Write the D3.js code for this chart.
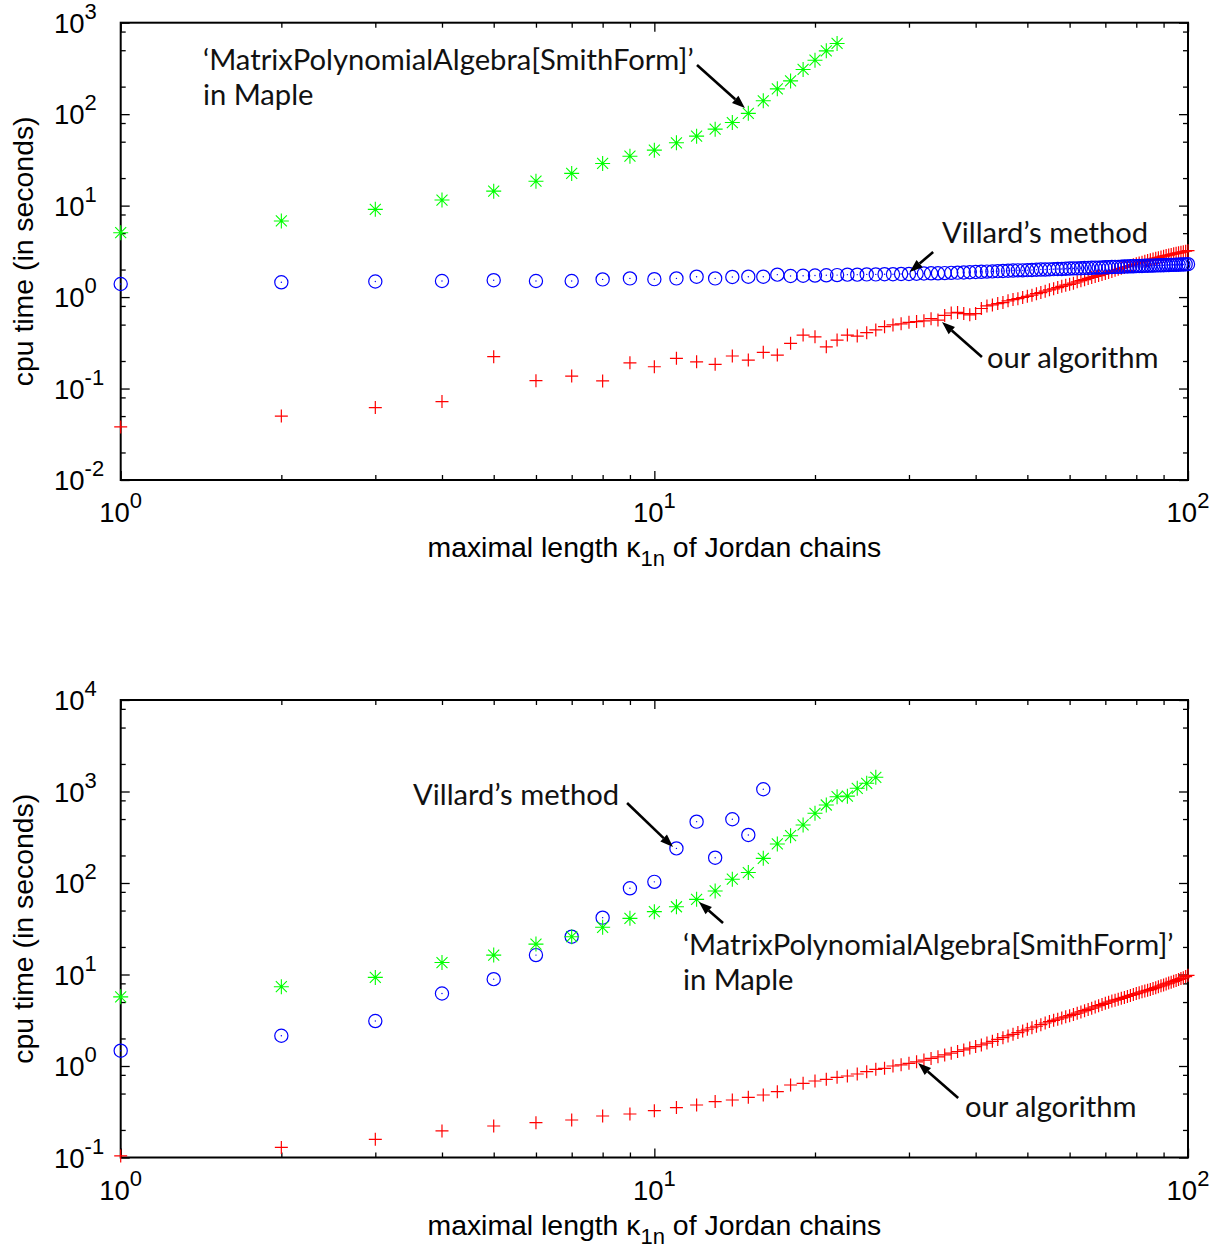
<!DOCTYPE html>
<html>
<head>
<meta charset="utf-8">
<script src="https://cdn.jsdelivr.net/npm/d3@7"></script>
<style>
body { margin: 0; background: #fff; }
</style>
</head>
<body>
<script>
/* cpu time vs maximal length of Jordan chains, two log-log panels */

var widthMax = 1217;
var heightMax = 1247;

// chain lengths k = 1..100
var kAll = d3.range(1, 101);

// top panel
var topMaple = [5.06, 6.8, 9.1, 11.5, 14.4, 18.5, 22.5, 28.9, 34.7, 40.4,
	48.6, 57.5, 68.6, 81, 102, 140, 189, 231, 308, 389,
	492, 593];
var topVillard = [1.39, 1.45, 1.48, 1.50, 1.53, 1.50, 1.50, 1.56, 1.60, 1.57,
	1.60, 1.67, 1.60, 1.66, 1.67, 1.67, 1.76, 1.70, 1.71, 1.72,
	1.73, 1.74, 1.76, 1.76, 1.77, 1.77, 1.78, 1.78, 1.79, 1.79,
	1.80, 1.81, 1.82, 1.82, 1.83, 1.84, 1.85, 1.86, 1.87, 1.88,
	1.89, 1.90, 1.91, 1.92, 1.93, 1.94, 1.95, 1.96, 1.96, 1.97,
	1.98, 1.99, 2.00, 2.00, 2.01, 2.02, 2.03, 2.03, 2.04, 2.05,
	2.06, 2.06, 2.07, 2.08, 2.08, 2.09, 2.10, 2.10, 2.11, 2.12,
	2.12, 2.13, 2.14, 2.14, 2.15, 2.16, 2.16, 2.17, 2.17, 2.18,
	2.19, 2.19, 2.20, 2.20, 2.21, 2.21, 2.22, 2.22, 2.23, 2.23,
	2.24, 2.24, 2.25, 2.25, 2.26, 2.26, 2.27, 2.27, 2.28, 2.29];
var topOurs = [0.038, 0.050, 0.062, 0.072, 0.223, 0.122, 0.137, 0.121, 0.191, 0.173,
	0.214, 0.196, 0.184, 0.227, 0.205, 0.249, 0.232, 0.312, 0.384, 0.368,
	0.286, 0.339, 0.384, 0.375, 0.408, 0.437, 0.475, 0.496, 0.51, 0.53,
	0.54, 0.55, 0.58, 0.56, 0.63, 0.67, 0.68, 0.66, 0.64, 0.66,
	0.75, 0.80, 0.82, 0.85, 0.87, 0.91, 0.94, 0.96, 0.99, 1.02,
	1.05, 1.09, 1.12, 1.16, 1.20, 1.23, 1.27, 1.31, 1.35, 1.38,
	1.42, 1.47, 1.51, 1.55, 1.60, 1.64, 1.68, 1.72, 1.77, 1.81,
	1.86, 1.91, 1.96, 2.01, 2.06, 2.11, 2.16, 2.21, 2.26, 2.31,
	2.36, 2.41, 2.46, 2.51, 2.56, 2.61, 2.66, 2.70, 2.75, 2.80,
	2.84, 2.88, 2.92, 2.97, 3.01, 3.05, 3.09, 3.13, 3.17, 3.22];

// bottom panel
var botMaple = [5.7, 7.36, 9.3, 13.5, 16.3, 21.5, 25.9, 32.8, 41.1, 48.6,
	55, 66.3, 81.8, 110, 130, 186, 267, 329, 431, 578,
	712, 877, 890, 1084, 1230, 1430];
var botVillard = [1.47, 2.14, 3.1, 6.2, 8.9, 16.3, 25.9, 41.8, 87.5, 103,
	239, 468, 189, 497, 335, 1058];
var botOurs = [0.104, 0.129, 0.158, 0.195, 0.221, 0.240, 0.257, 0.284, 0.299, 0.325,
	0.351, 0.375, 0.408, 0.425, 0.455, 0.482, 0.524, 0.620, 0.647, 0.686,
	0.715, 0.752, 0.778, 0.818, 0.867, 0.920, 0.944, 1.00, 1.03, 1.07,
	1.11, 1.16, 1.21, 1.26, 1.32, 1.38, 1.44, 1.50, 1.57, 1.63,
	1.70, 1.78, 1.86, 1.95, 2.04, 2.13, 2.22, 2.32, 2.42, 2.52,
	2.62, 2.72, 2.83, 2.95, 3.06, 3.16, 3.25, 3.35, 3.45, 3.55,
	3.66, 3.78, 3.90, 4.02, 4.15, 4.28, 4.42, 4.56, 4.70, 4.84,
	4.98, 5.12, 5.24, 5.36, 5.49, 5.62, 5.76, 5.90, 6.04, 6.18,
	6.32, 6.46, 6.60, 6.72, 6.85, 7.02, 7.18, 7.35, 7.52, 7.70,
	7.88, 8.06, 8.24, 8.43, 8.62, 8.82, 9.02, 9.22, 9.48, 9.80];

// tick exponents
var xExp = [0, 1, 2];
var topYExp = [-2, -1, 0, 1, 2, 3];
var botYExp = [-1, 0, 1, 2, 3, 4];

// annotations, in data units (first baseline of text, arrow tail -> tip)
var topNotes = [
	{lines: ["\u2018MatrixPolynomialAlgebra[SmithForm]\u2019", "in Maple"], x: 1.426, y: 304},
	{lines: ["Villard\u2019s method"], x: 34.6, y: 3.90},
	{lines: ["our algorithm"], x: 42.0, y: 0.168}
];
var topArrows = [
	{x1: 12.02, y1: 345, x2: 14.78, y2: 116.8},
	{x1: 33.3, y1: 3.11, x2: 30.1, y2: 1.88},
	{x1: 41.1, y1: 0.2214, x2: 34.6, y2: 0.534}
];
var botNotes = [
	{lines: ["Villard\u2019s method"], x: 3.53, y: 712},
	{lines: ["\u2018MatrixPolynomialAlgebra[SmithForm]\u2019", "in Maple"], x: 11.31, y: 16.3},
	{lines: ["our algorithm"], x: 38.2, y: 0.277}
];
var botArrows = [
	{x1: 8.89, y1: 748, x2: 10.84, y2: 247},
	{x1: 13.45, y1: 36.5, x2: 12.12, y2: 62.0},
	{x1: 37.1, y1: 0.447, x2: 31.2, y2: 1.08}
];

var tickFont = "'Liberation Sans', Arial, Helvetica, sans-serif";
var noteFont = "Lato, 'Open Sans', sans-serif";

var svgContainer = d3.select("body").append("svg")
	.attr("width", widthMax)
	.attr("height", heightMax);

svgContainer.append("rect")
	.attr("width", widthMax)
	.attr("height", heightMax)
	.attr("fill", "#fff");

function minorTicks(lo, hi, steps) {
	var out = [];
	for (var e = lo; e < hi; e++) {
		steps.forEach(function(s) { out.push(s * Math.pow(10, e)); });
	}
	return out;
}

function drawPanel(cfg) {
	var left = 120.7, right = 1188;
	var x = d3.scaleLog().domain([1, 100]).range([left, right]);
	var y = d3.scaleLog().domain(cfg.yDomain).range([cfg.bottom, cfg.top]);
	var g = svgContainer.append("g");

	var yLo = Math.round(Math.log10(cfg.yDomain[0]));
	var yHi = Math.round(Math.log10(cfg.yDomain[1]));
	var xMajor = xExp.map(function(e) { return Math.pow(10, e); });
	var yMajor = cfg.yExp.map(function(e) { return Math.pow(10, e); });
	var xMinor = minorTicks(0, 2, [2, 3, 4, 5, 6, 7, 8, 9]);
	var yMinor = minorTicks(yLo, yHi, [2, 5, 8]);

	// inward ticks on all four sides
	function ticks(axisFn, scale, vals, len, transform) {
		var a = g.append("g")
			.attr("transform", transform)
			.call(axisFn(scale).tickValues(vals).tickSize(-len).tickFormat(""));
		a.select(".domain").remove();
		a.selectAll("line").attr("stroke", "#000").attr("stroke-width", 1.3);
	}
	ticks(d3.axisBottom, x, xMajor, 9, "translate(0," + cfg.bottom + ")");
	ticks(d3.axisBottom, x, xMinor, 5, "translate(0," + cfg.bottom + ")");
	ticks(d3.axisTop, x, xMajor, 9, "translate(0," + cfg.top + ")");
	ticks(d3.axisTop, x, xMinor, 5, "translate(0," + cfg.top + ")");
	ticks(d3.axisLeft, y, yMajor, 9, "translate(" + left + ",0)");
	ticks(d3.axisLeft, y, yMinor, 5, "translate(" + left + ",0)");
	ticks(d3.axisRight, y, yMajor, 9, "translate(" + right + ",0)");
	ticks(d3.axisRight, y, yMinor, 5, "translate(" + right + ",0)");

	g.append("rect")
		.attr("x", left)
		.attr("y", cfg.top)
		.attr("width", right - left)
		.attr("height", cfg.bottom - cfg.top)
		.attr("fill", "none")
		.attr("stroke", "#000")
		.attr("stroke-width", 2);

	// tick labels 10^n
	var xl = g.selectAll(".xlab").data(xExp).enter().append("text")
		.attr("x", function(e) { return x(Math.pow(10, e)); })
		.attr("y", cfg.bottom + 42)
		.attr("text-anchor", "middle")
		.attr("font-family", tickFont)
		.attr("font-size", 27.5);
	xl.append("tspan").text("10");
	xl.append("tspan").attr("dy", -14).attr("font-size", 22).text(function(e) { return e; });

	var yl = g.selectAll(".ylab").data(cfg.yExp).enter().append("text")
		.attr("x", 54)
		.attr("y", function(e) { return y(Math.pow(10, e)) + 10; })
		.attr("font-family", tickFont)
		.attr("font-size", 27.5);
	yl.append("tspan").text("10");
	yl.append("tspan").attr("dy", -14).attr("font-size", 22).text(function(e) { return e; });

	// axis titles
	var xt = g.append("text")
		.attr("x", (left + right) / 2)
		.attr("y", cfg.bottom + 77)
		.attr("text-anchor", "middle")
		.attr("font-family", tickFont)
		.attr("font-size", 28.4);
	xt.append("tspan").text("maximal length \u03ba");
	xt.append("tspan").attr("dy", 9).attr("font-size", 22).text("1n");
	xt.append("tspan").attr("dy", -9).text(" of Jordan chains");

	g.append("text")
		.attr("transform", "translate(33," + ((cfg.top + cfg.bottom) / 2) + ") rotate(-90)")
		.attr("text-anchor", "middle")
		.attr("font-family", tickFont)
		.attr("font-size", 28.4)
		.text("cpu time (in seconds)");

	// markers: red plus, blue circle with dot, green asterisk
	g.selectAll(".ours").data(cfg.ours).enter().append("path")
		.attr("transform", function(d, i) { return "translate(" + x(kAll[i]) + "," + y(d) + ")"; })
		.attr("d", "M-6.5,0H6.5M0,-6.5V6.5")
		.attr("stroke", "#ff0000")
		.attr("stroke-width", 1.2)
		.attr("fill", "none");

	var vil = g.selectAll(".vil").data(cfg.villard).enter().append("g")
		.attr("transform", function(d, i) { return "translate(" + x(kAll[i]) + "," + y(d) + ")"; });
	vil.append("circle")
		.attr("r", 6.6)
		.attr("fill", "none")
		.attr("stroke", "#0000ff")
		.attr("stroke-width", 1.2);
	vil.append("circle")
		.attr("r", 0.7)
		.attr("fill", "#0000ff");

	g.selectAll(".maple").data(cfg.maple).enter().append("path")
		.attr("transform", function(d, i) { return "translate(" + x(kAll[i]) + "," + y(d) + ")"; })
		.attr("d", "M-7.5,0H7.5M0,-7.5V7.5M-5.5,-5.5L5.5,5.5M-5.5,5.5L5.5,-5.5")
		.attr("stroke", "#00ff00")
		.attr("stroke-width", 1.1)
		.attr("fill", "none");

	// annotations
	cfg.notes.forEach(function(n) {
		var t = g.append("text")
			.attr("x", x(n.x))
			.attr("y", y(n.y))
			.attr("font-family", noteFont)
			.attr("font-size", 29.2)
			.attr("fill", "#111");
		n.lines.forEach(function(s, i) {
			t.append("tspan").attr("x", x(n.x)).attr("dy", i === 0 ? 0 : 35).text(s);
		});
	});

	cfg.arrows.forEach(function(a) {
		var x1 = x(a.x1), y1 = y(a.y1), x2 = x(a.x2), y2 = y(a.y2);
		var ang = Math.atan2(y2 - y1, x2 - x1);
		var hl = 13, hw = 4.8;
		var bx = x2 - hl * Math.cos(ang), by = y2 - hl * Math.sin(ang);
		g.append("line")
			.attr("x1", x1).attr("y1", y1)
			.attr("x2", bx).attr("y2", by)
			.attr("stroke", "#000")
			.attr("stroke-width", 2.6);
		g.append("path")
			.attr("d", "M" + x2 + "," + y2 +
				"L" + (bx + hw * Math.sin(ang)) + "," + (by - hw * Math.cos(ang)) +
				"L" + (bx - hw * Math.sin(ang)) + "," + (by + hw * Math.cos(ang)) + "Z")
			.attr("fill", "#000");
	});
}

drawPanel({
	top: 22.7, bottom: 480, yDomain: [1e-2, 1e3], yExp: topYExp,
	maple: topMaple, villard: topVillard, ours: topOurs,
	notes: topNotes, arrows: topArrows
});

drawPanel({
	top: 700, bottom: 1157.5, yDomain: [1e-1, 1e4], yExp: botYExp,
	maple: botMaple, villard: botVillard, ours: botOurs,
	notes: botNotes, arrows: botArrows
});
</script>
</body>
</html>
